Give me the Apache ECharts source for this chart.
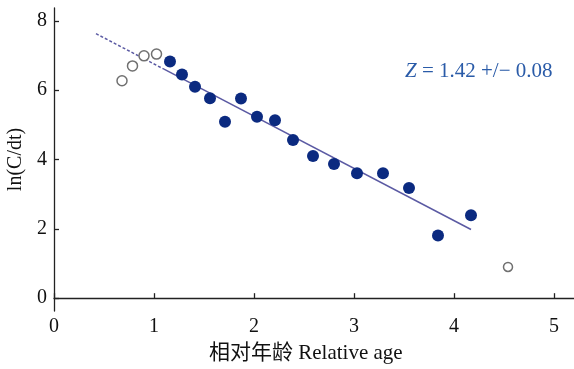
<!DOCTYPE html>
<html><head><meta charset="utf-8">
<script src="https://cdn.jsdelivr.net/npm/echarts@6/dist/echarts.min.js"></script>
<style>html,body{margin:0;padding:0;background:#fff}#c{width:574px;height:369px}</style>
</head><body><div id="c"></div>
<script>
// Data
var filledPoints = [
  [1.16, 6.83], [1.28, 6.45], [1.41, 6.10], [1.56, 5.77], [1.71, 5.09],
  [1.87, 5.76], [2.03, 5.23], [2.21, 5.13], [2.39, 4.56], [2.59, 4.10],
  [2.80, 3.87], [3.03, 3.60], [3.29, 3.60], [3.55, 3.18], [3.84, 1.81],
  [4.17, 2.39]
];
var openPoints = [
  [0.68, 6.27], [0.785, 6.70], [0.90, 6.99], [1.025, 7.04]
];
var openPointLast = [[4.54, 0.90]];
var fitSolid = [[1.10, 6.605], [4.17, 1.98]];
var fitDashed = [[0.42, 7.63], [1.10, 6.605]];
var xTicks = [0, 1, 2, 3, 4, 5];
var yTicks = [0, 2, 4, 6, 8];
var annotation = 'Z = 1.42 +/\u2212 0.08';

var serif = '"Liberation Serif", "Times New Roman", serif';
var chart = echarts.init(document.getElementById('c'));
chart.setOption({
  animation: false,
  grid: { left: 54, right: 0, top: 8, bottom: 58, containLabel: false, outerBoundsMode: 'none' },
  xAxis: {
    type: 'value', min: 0, max: 5.2,
    axisLine: { lineStyle: { color: '#222', width: 1.3 } },
    axisTick: { inside: true, length: 5, customValues: xTicks, lineStyle: { color: '#222', width: 1.3 } },
    axisLabel: { customValues: xTicks, fontFamily: serif, fontSize: 20, color: '#111', margin: 6 },
    splitLine: { show: false }
  },
  yAxis: {
    type: 'value', min: -0.37, max: 8.37,
    name: 'ln(C/dt)', nameLocation: 'middle', nameGap: 27,
    nameTextStyle: { fontFamily: serif, fontSize: 20, color: '#111' },
    axisLine: { show: true, lineStyle: { color: '#222', width: 1.3 } },
    axisTick: { show: true, inside: true, length: 5, customValues: yTicks, lineStyle: { color: '#222', width: 1.3 } },
    axisLabel: { customValues: yTicks, fontFamily: serif, fontSize: 20, color: '#111', margin: 7 },
    splitLine: { show: false }
  },
  graphic: [
    { type: 'text', left: 209, top: 343, style: { text: '相对年龄 Relative age', font: '21px "Liberation Serif", "Noto Sans CJK SC"', fill: '#111' } },
    { type: 'text', left: 405, top: 61, style: { rich: { i: { fontStyle: 'italic', fontFamily: serif, fontSize: 21, fill: '#2a5ba8' }, n: { fontFamily: serif, fontSize: 21, fill: '#2a5ba8' } }, text: '{i|Z}{n| = 1.42 +/\u2212 0.08}' } }
  ],
  series: [
    { type: 'line', data: fitDashed, symbol: 'none', lineStyle: { color: '#5b5aa3', width: 1.5, type: [3, 2] }, z: 1 },
    { type: 'line', data: fitSolid, symbol: 'none', lineStyle: { color: '#5b5aa3', width: 1.5 }, z: 1 },
    { type: 'scatter', data: filledPoints, symbol: 'circle', symbolSize: 12, itemStyle: { color: '#0b2a80', opacity: 1 }, z: 3 },
    { type: 'scatter', data: openPoints, symbol: 'circle', symbolSize: 10, itemStyle: { color: '#fff', borderColor: '#707070', borderWidth: 1.5, opacity: 1 }, z: 3 },
    { type: 'scatter', data: openPointLast, symbol: 'circle', symbolSize: 9, itemStyle: { color: '#fff', borderColor: '#707070', borderWidth: 1.5, opacity: 1 }, z: 3 }
  ]
});
</script></body></html>
